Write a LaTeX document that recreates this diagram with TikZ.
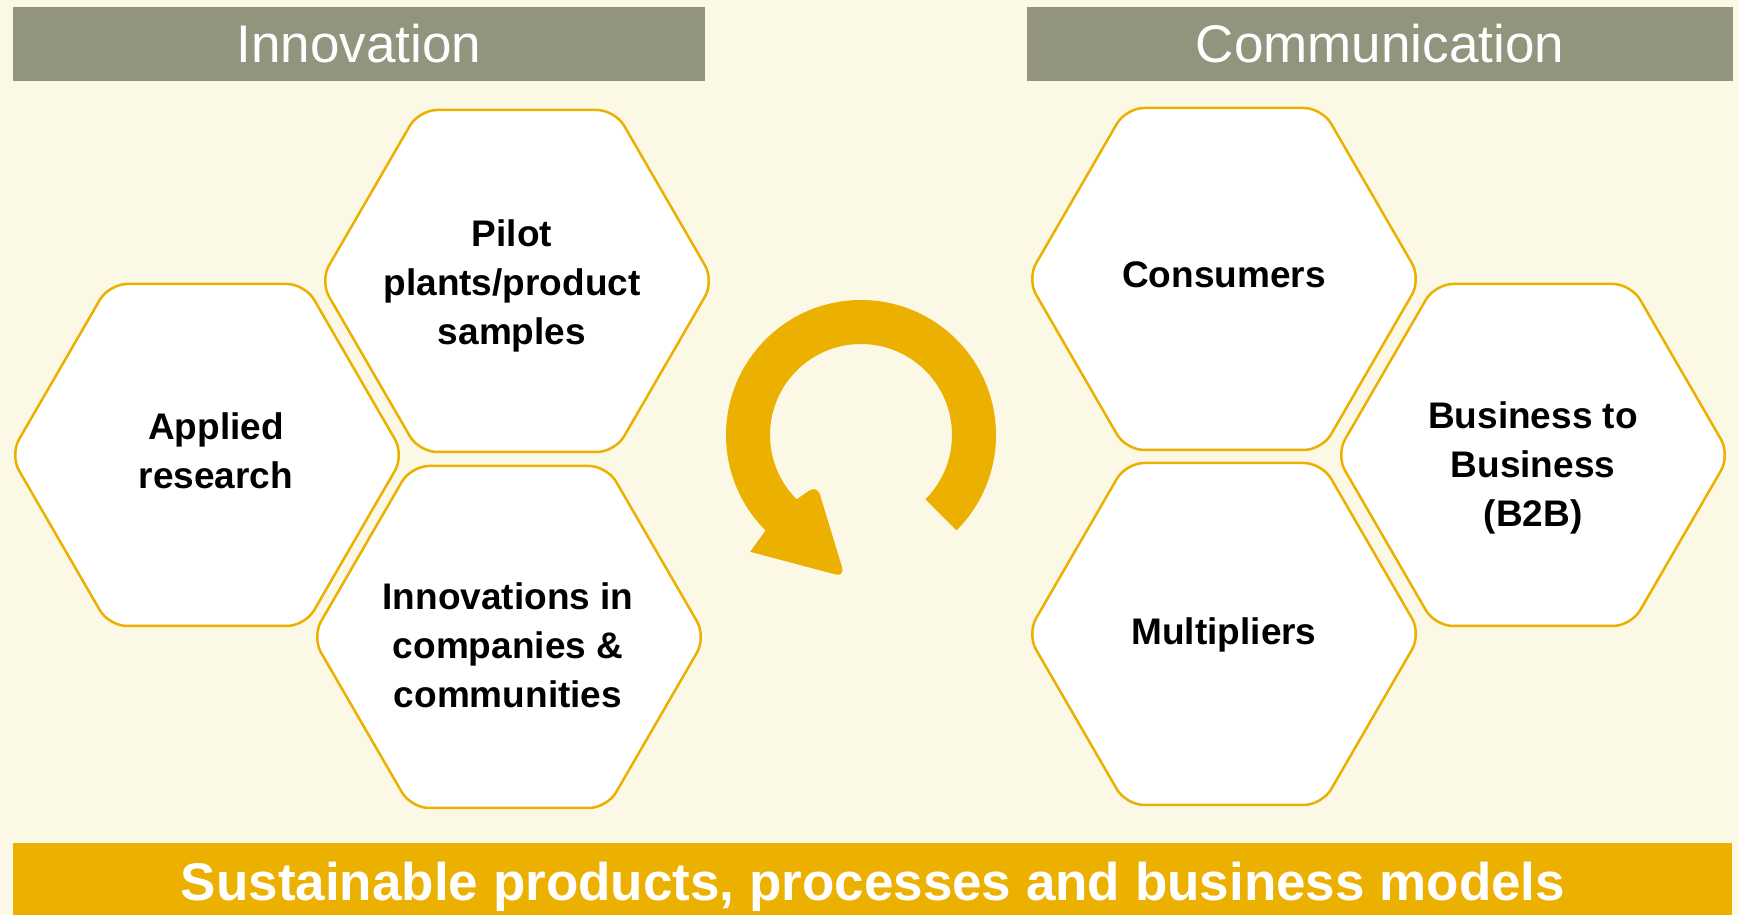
\documentclass[tikz,border=0pt]{standalone}
\usepackage{fontspec}
\setmainfont{Liberation Sans}
\definecolor{bgcream}{HTML}{FCF8E6}
\definecolor{headgray}{HTML}{92947E}
\definecolor{gold}{HTML}{EBB000}
\newcommand\hexcell[2]{%
  \draw[hex] ({#1+197},#2) -- ({#1+98},{#2+171}) -- ({#1-98},{#2+171}) --
    ({#1-197},#2) -- ({#1-98},{#2-171}) -- ({#1+98},{#2-171}) -- cycle;}
\begin{document}
\begin{tikzpicture}[x=1pt,y=1pt,
  hex/.style={draw=gold, line width=2.5pt, fill=white, rounded corners=18pt},
  htext/.style={font=\fontsize{37}{49}\selectfont\bfseries, align=center, text=black, inner sep=0pt},
  headbox/.style={fill=headgray},
  headtext/.style={font=\fontsize{53}{60}\selectfont, text=white, inner sep=0pt},
  bantext/.style={font=\fontsize{53}{60}\selectfont\bfseries, text=white, inner sep=0pt}]
\fill[bgcream] (0,0) rectangle (1739,915);
\useasboundingbox (0,0) rectangle (1739,915);
% headers
\fill[headbox] (13,834) rectangle (705,908);
\node[headtext] (hInno) at (359,871) {Innovation};
\fill[headbox] (1027,834) rectangle (1733,908);
\node[headtext] (hComm) at (1380,871) {Communication};
% banner
\fill[gold] (13,0) rectangle (1732,72);
\node[bantext] (ban) at (873,28) {Sustainable products, processes and business models};
% hexagons
\hexcell{207}{460}
\hexcell{517}{634}
\hexcell{509}{278}
\hexcell{1224}{636}
\hexcell{1533}{460}
\hexcell{1224}{281}
\node[htext] (tA) at (216,464) {Applied\\research};
\node[htext] (tP) at (512,629) {Pilot\\plants/product\\samples};
\node[htext] (tI) at (508,270) {Innovations in\\companies \&\\communities};
\node[htext] (tC) at (1224,640) {Consumers};
\node[htext] (tB) at (1533,447) {Business to\\Business\\(B2B)};
\node[htext] (tM) at (1224,280) {Multipliers};
% circular arrow
\begin{scope}[shift={(861,480)}]
\fill[gold] (-45:135) arc[start angle=-45, end angle=225, radius=135]
  -- (226.5:161) [rounded corners=10pt] -- (-16,-142) -- (228.7:66.6) [sharp corners]
  -- (225:91) arc[start angle=225, end angle=-45, radius=91] -- cycle;
\end{scope}
\end{tikzpicture}
\end{document}
